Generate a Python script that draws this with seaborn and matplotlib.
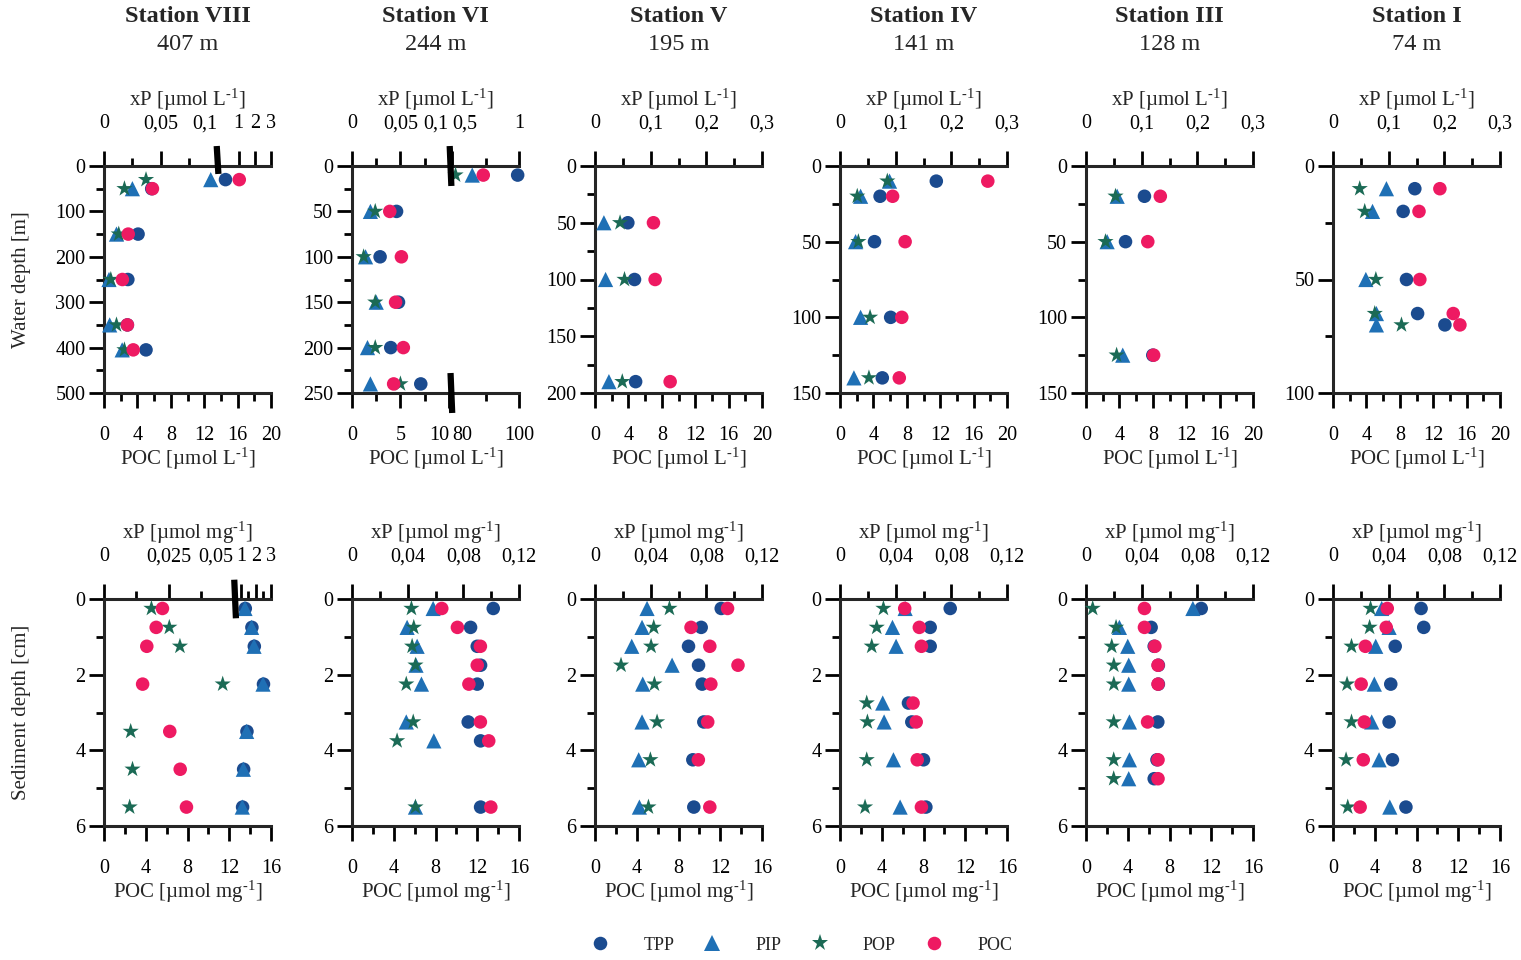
import numpy as np
import seaborn as sns
import matplotlib.pyplot as plt
from matplotlib.ticker import FixedLocator, FuncFormatter
from matplotlib.lines import Line2D

stations = ['Station VIII', 'Station VI', 'Station V', 'Station IV', 'Station III', 'Station I']
site_depth = ['407 m', '244 m', '195 m', '141 m', '128 m', '74 m']

# water column: xP [umol/L], POC [umol/L]
w8_depth = [30, 50, 150, 250, 350, 405]
w8_tpp = [0.44, 0.042, 0.030, 0.021, 0.0206, 0.037]
w8_pip = [0.094, 0.025, 0.011, 0.0044, 0.005, 0.016]
w8_pop = [0.037, 0.018, 0.013, 0.006, 0.011, 0.018]
w8_poc = [16.2, 5.8, 2.9, 2.2, 2.8, 3.5]

w6_depth = [10, 50, 100, 150, 200, 240]
w6_tpp = [0.99, 0.046, 0.029, 0.048, 0.040, 0.071]
w6_pip = [0.65, 0.019, 0.014, 0.025, 0.016, 0.019]
w6_pop = [0.525, 0.024, 0.012, 0.024, 0.024, 0.050]
w6_poc = [89.3, 3.9, 5.1, 4.5, 5.3, 4.3]

w5_depth = [50, 100, 190]
w5_tpp = [0.059, 0.071, 0.073]
w5_pip = [0.016, 0.019, 0.025]
w5_pop = [0.045, 0.053, 0.049]
w5_poc = [7.0, 7.2, 9.0]

w4_depth = [10, 20, 50, 100, 140]
w4_tpp = [0.173, 0.072, 0.062, 0.091, 0.076]
w4_pip = [0.089, 0.037, 0.028, 0.037, 0.025]
w4_pop = [0.085, 0.031, 0.033, 0.054, 0.052]
w4_poc = [17.7, 6.3, 7.8, 7.4, 7.1]

w3_depth = [20, 50, 125]
w3_tpp = [0.105, 0.071, 0.12]
w3_pip = [0.056, 0.038, 0.066]
w3_pop = [0.053, 0.035, 0.055]
w3_poc = [8.9, 7.4, 8.1]

w1_depth = [10, 20, 50, 65, 70]
w1_tpp = [0.147, 0.126, 0.132, 0.152, 0.201]
w1_pip = [0.096, 0.071, 0.059, 0.078, 0.078]
w1_pop = [0.048, 0.057, 0.077, 0.075, 0.123]
w1_poc = [12.8, 10.3, 10.4, 14.4, 15.2]

# sediment: xP [umol/mg], POC [umol/mg]
s8_depth = [0.25, 0.75, 1.25, 2.25, 3.5, 4.5, 5.5]
s8_tpp = [1.29, 1.73, 1.89, 2.5, 1.4, 1.18, 1.11]
s8_pip = [1.27, 1.71, 1.87, 2.47, 1.38, 1.16, 1.09]
s8_pop = [0.0183, 0.0252, 0.0293, 0.0458, 0.0103, 0.011, 0.0099]
s8_poc = [5.6, 5.0, 4.1, 3.7, 6.3, 7.3, 7.9]

s6_depth = [0.25, 0.75, 1.25, 1.75, 2.25, 3.25, 3.75, 5.5]
s6_tpp = [0.1015, 0.0852, 0.090, 0.0924, 0.090, 0.0835, 0.0924, 0.0924]
s6_pip = [0.0583, 0.0396, 0.0468, 0.046, 0.0499, 0.039, 0.0588, 0.0456]
s6_pop = [0.0427, 0.0444, 0.0432, 0.0456, 0.039, 0.044, 0.0324, 0.0456]
s6_poc = [8.6, 10.1, 12.3, 12.0, 11.2, 12.3, 13.1, 13.3]

s5_depth = [0.25, 0.75, 1.25, 1.75, 2.25, 3.25, 4.25, 5.5]
s5_tpp = [0.0907, 0.0763, 0.0672, 0.0744, 0.077, 0.0782, 0.0703, 0.071]
s5_pip = [0.0374, 0.0338, 0.0264, 0.0554, 0.0343, 0.0338, 0.0314, 0.0319]
s5_pop = [0.0535, 0.0422, 0.0403, 0.0187, 0.0427, 0.0446, 0.0398, 0.0384]
s5_poc = [12.7, 9.2, 11.0, 13.7, 11.1, 10.8, 9.9, 11.0]

s4_depth = [0.25, 0.75, 1.25, 2.75, 3.25, 4.25, 5.5]
s4_tpp = [0.0792, 0.0648, 0.0648, 0.0492, 0.0516, 0.060, 0.0617]
s4_pip = [0.0468, 0.0377, 0.0403, 0.0307, 0.0317, 0.0384, 0.0432]
s4_pop = [0.0312, 0.0264, 0.0228, 0.0192, 0.0197, 0.0192, 0.018]
s4_poc = [6.2, 7.6, 7.8, 7.0, 7.3, 7.4, 7.8]

s3_depth = [0.25, 0.75, 1.25, 1.75, 2.25, 3.25, 4.25, 4.75]
s3_tpp = [0.0828, 0.0468, 0.049, 0.052, 0.052, 0.0516, 0.051, 0.049]
s3_pip = [0.0768, 0.024, 0.030, 0.0307, 0.0307, 0.0312, 0.0312, 0.0307]
s3_pop = [0.0048, 0.0216, 0.0185, 0.020, 0.020, 0.0199, 0.0199, 0.0199]
s3_poc = [5.6, 5.6, 6.6, 6.9, 6.9, 5.9, 6.9, 6.9]

s1_depth = [0.25, 0.75, 1.25, 2.25, 3.25, 4.25, 5.5]
s1_tpp = [0.0633, 0.0652, 0.0447, 0.0415, 0.0403, 0.0427, 0.0524]
s1_pip = [0.035, 0.0403, 0.0307, 0.0297, 0.0278, 0.0331, 0.0408]
s1_pop = [0.027, 0.0263, 0.0133, 0.0101, 0.0133, 0.0094, 0.0106]
s1_poc = [5.2, 5.1, 3.1, 2.7, 3.0, 2.9, 2.6]

water = [(w8_depth, w8_tpp, w8_pip, w8_pop, w8_poc),
         (w6_depth, w6_tpp, w6_pip, w6_pop, w6_poc),
         (w5_depth, w5_tpp, w5_pip, w5_pop, w5_poc),
         (w4_depth, w4_tpp, w4_pip, w4_pop, w4_poc),
         (w3_depth, w3_tpp, w3_pip, w3_pop, w3_poc),
         (w1_depth, w1_tpp, w1_pip, w1_pop, w1_poc)]
sed = [(s8_depth, s8_tpp, s8_pip, s8_pop, s8_poc),
       (s6_depth, s6_tpp, s6_pip, s6_pop, s6_poc),
       (s5_depth, s5_tpp, s5_pip, s5_pop, s5_poc),
       (s4_depth, s4_tpp, s4_pip, s4_pop, s4_poc),
       (s3_depth, s3_tpp, s3_pip, s3_pop, s3_poc),
       (s1_depth, s1_tpp, s1_pip, s1_pop, s1_poc)]

names = ['TPP', 'PIP', 'POP', 'POC']
colors = ['#1b4b8f', '#1f70b5', '#1b6a55', '#ee1a62']
markers = ['o', '^', '*', 'o']
sizes = [95, 120, 150, 95]

# axis setups: (knots, positions, major, minor, alignments)
lin = lambda top, major, minor: ([0, top], [0, 1], major, minor, {})
xp_water = [([0, 0.1, 1, 3], [0, 0.68, 0.806, 1.0], [0, 0.05, 0.1, 1, 2, 3], [0.025, 0.075],
             {0.1: 'right'}),
            ([0, 0.1, 0.5, 1], [0, 0.58, 0.6, 1.0], [0, 0.05, 0.1, 0.5, 1], [0.025, 0.075, 0.75],
             {0.1: 'right', 0.5: 'left'})] + \
           [lin(0.3, [0, 0.1, 0.2, 0.3], [0.05, 0.15, 0.25])] * 4
poc_water = [lin(20, [0, 4, 8, 12, 16, 20], [2, 6, 10, 14, 18]),
             ([0, 10, 80, 100], [0, 0.58, 0.6, 1.0], [0, 5, 10, 80, 100], [2.5, 7.5, 90],
              {10: 'right', 80: 'left'})] + \
            [lin(20, [0, 4, 8, 12, 16, 20], [2, 6, 10, 14, 18])] * 4
depth_water = [(500, 100, 50), (250, 50, 25), (200, 50, 25), (150, 50, 25), (150, 50, 25), (100, 50, 25)]
# break marks: (axis, x, up, down)
breaks_water = [[('top', 0.68, 0.088, 0.035)],
                [('top', 0.59, 0.088, 0.088), ('bottom', 0.595, 0.088, 0.088)],
                [], [], [], []]

xp_sed = [([0, 0.05, 1, 3], [0, 0.776, 0.82, 1.0], [0, 0.025, 0.05, 1, 2, 3], [0.0125, 0.0375, 1.5, 2.5],
           {0.05: 'right'})] + \
         [lin(0.12, [0, 0.04, 0.08, 0.12], [0.02, 0.06, 0.1])] * 5
poc_sed = [lin(16, [0, 4, 8, 12, 16], [2, 6, 10, 14])] * 6
depth_sed = [(6, 2, 1)] * 6
breaks_sed = [[('top', 0.785, 0.085, 0.085)], [], [], [], [], []]

sns.set_style("ticks")
plt.rcParams['font.family'] = ['Liberation Serif', 'DejaVu Serif']
plt.rcParams['mathtext.fontset'] = 'custom'
plt.rcParams['mathtext.rm'] = 'Liberation Serif'
plt.rcParams['mathtext.it'] = 'Liberation Serif:italic'
plt.rcParams['axes.unicode_minus'] = False

W, H = 1521, 960
fig = plt.figure(figsize=(W / 100, H / 100), dpi=100)
col_left = [104, 352, 595, 840, 1086, 1333]
pw = 167
comma = FuncFormatter(lambda v, p: f'{v:g}'.replace('.', ','))
TICK, LAB = 14.5, 15
SUP = '$^{\\mathrm{\u2010}\\mathrm{1}}$'


def piecewise(knots, pos):
    return (lambda x: np.interp(x, knots, pos), lambda y: np.interp(y, pos, knots))


def style_x(ax, spec, top):
    knots, pos, major, minor, align = spec
    ax.set_xscale('function', functions=piecewise(knots, pos))
    ax.set_xlim(knots[0], knots[-1])
    ax.xaxis.set_major_locator(FixedLocator(major))
    ax.xaxis.set_minor_locator(FixedLocator(minor))
    ax.xaxis.set_major_formatter(comma)
    ax.get_xticklabels()
    ticks = ax.xaxis.get_major_ticks()
    for i, v in enumerate(major):
        if v in align:
            (ticks[i].label2 if top else ticks[i].label1).set_ha(align[v])


def panel(i, y0, y1, data, xp_spec, poc_spec, dspec, brks, unit, ylab):
    depth, tpp, pip, pop_, poc = data
    rect = [col_left[i] / W, 1 - y1 / H, pw / W, (y1 - y0) / H]
    axp = fig.add_axes(rect)
    axc = axp.twiny()
    for vals, c, m, s in zip([tpp, pip, pop_], colors, markers, sizes):
        sns.scatterplot(x=vals, y=depth, ax=axp, marker=m, color=c, s=s,
                        edgecolor='none', linewidth=0, zorder=3, clip_on=False)
    sns.scatterplot(x=poc, y=depth, ax=axc, marker='o', color=colors[3], s=sizes[3],
                    edgecolor='none', linewidth=0, zorder=3, clip_on=False)
    style_x(axp, xp_spec, True)
    style_x(axc, poc_spec, False)
    dmax, dmaj, dmin = dspec
    axp.set_ylim(dmax, 0)
    axp.yaxis.set_major_locator(FixedLocator(np.arange(0, dmax + 0.1, dmaj)))
    axp.yaxis.set_minor_locator(FixedLocator(np.arange(dmin, dmax, dmaj)))
    axp.yaxis.set_major_formatter(FuncFormatter(lambda v, p: f'{v:g}'))

    axp.xaxis.tick_top()
    axp.xaxis.set_label_position('top')
    axc.xaxis.tick_bottom()
    axc.xaxis.set_label_position('bottom')
    for sp in ['right', 'bottom']:
        axp.spines[sp].set_visible(False)
    for sp in ['left', 'right', 'top']:
        axc.spines[sp].set_visible(False)
    axp.spines['top'].set_linewidth(2.2)
    axp.spines['left'].set_linewidth(2.2)
    axc.spines['bottom'].set_linewidth(2.2)
    for a in (axp, axc):
        a.tick_params(which='major', length=10.5, width=2.0, color='black',
                      labelsize=TICK, labelcolor='black', direction='out')
        a.tick_params(which='minor', length=5.5, width=2.0, color='black', direction='out')
    axp.tick_params(axis='x', which='both', top=True, bottom=False, labeltop=True,
                    labelbottom=False, pad=13)
    axp.tick_params(axis='y', which='both', left=True, right=False, pad=3)
    axc.tick_params(axis='x', which='both', bottom=True, top=False, labelbottom=True,
                    labeltop=False, pad=13)
    axp.set_xlabel('xP [µmol ' + unit + SUP + ']', fontsize=LAB, labelpad=6)
    axc.set_xlabel('POC [µmol ' + unit + SUP + ']', fontsize=LAB, labelpad=1)
    axp.set_ylabel('')
    axp.patch.set_alpha(0)

    for side, x, up, down in brks:
        y = 1 if side == 'top' else 0
        axc.plot([x - 0.005, x + 0.005], [y + up, y - down], transform=axc.transAxes,
                 color='black', lw=4.5, solid_capstyle='butt', clip_on=False, zorder=10)
    if i == 0:
        fig.text(22 / W, 1 - (y0 + y1) / 2 / H, ylab, rotation=90, ha='center', va='center',
                 fontsize=LAB)


for i in range(6):
    cx = (col_left[i] + pw / 2) / W
    fig.text(cx, 1 - 17 / H, stations[i], ha='center', va='center', fontsize=17.5,
             fontweight='bold')
    fig.text(cx, 1 - 45 / H, site_depth[i], ha='center', va='center', fontsize=17.5)
    panel(i, 166, 393, water[i], xp_water[i], poc_water[i], depth_water[i], breaks_water[i],
          'L', 'Water depth [m]')
    panel(i, 599, 826, sed[i], xp_sed[i], poc_sed[i], depth_sed[i], breaks_sed[i],
          'mg', 'Sediment depth [cm]')

handles = [Line2D([], [], ls='none', marker=m, color=c, markeredgewidth=0,
                  markersize=np.sqrt(s))
           for m, c, s in zip(markers, colors, sizes)]
fig.legend(handles, names, loc='center', bbox_to_anchor=(0.527, 1 - 945 / H), ncol=4,
           frameon=False, fontsize=13, handlelength=1.0, handletextpad=1.9,
           columnspacing=1.6)

fig.savefig('out.png', dpi=100)
